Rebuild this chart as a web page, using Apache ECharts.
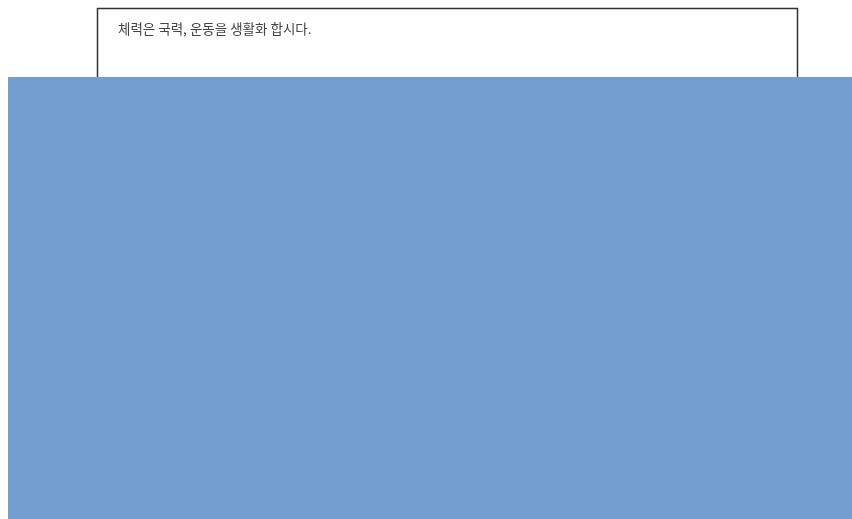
<!DOCTYPE html>
<html>
<head>
<meta charset="utf-8">
<script src="https://cdn.jsdelivr.net/npm/echarts@6/dist/echarts.min.js"></script>
<style>
html,body{margin:0;padding:0;background:#fff;}
#chart{width:852px;height:519px;}
</style>
</head>
<body>
<div id="chart"></div>
<script>
var categories = [''];
var values = [1];
var noteText = '체력은 국력, 운동을 생활화 합시다.';

var chart = echarts.init(document.getElementById('chart'), null, {renderer: 'canvas'});
chart.setOption({
  backgroundColor: '#ffffff',
  animation: false,
  title: {
    text: noteText,
    left: 118,
    top: 22,
    padding: 0,
    textStyle: {fontSize: 13.5, fontWeight: 'normal', color: '#444', fontFamily: 'Noto Sans CJK KR'}
  },
  graphic: [
    {type: 'rect', z: 0, shape: {x: 97.5, y: 8.5, width: 700, height: 120}, style: {fill: '#fff', stroke: '#333', lineWidth: 1.5}}
  ],
  grid: {left: 8, top: 77, right: 0, bottom: 0},
  xAxis: {type: 'category', data: categories, show: false},
  yAxis: {type: 'value', min: 0, max: 1, show: false},
  series: [{
    type: 'bar',
    data: values,
    barWidth: '100%',
    z: 5,
    itemStyle: {color: '#729fcf', borderWidth: 0}
  }],
});
</script>
</body>
</html>
